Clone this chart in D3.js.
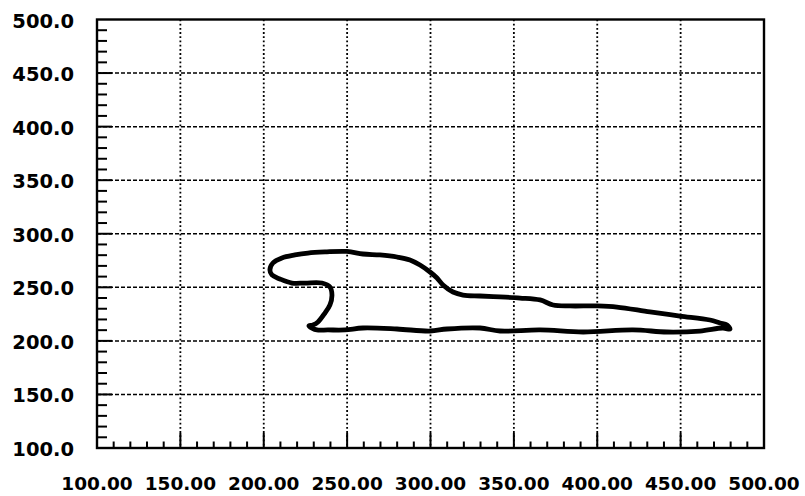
<!DOCTYPE html>
<html>
<head>
<meta charset="utf-8">
<script src="https://cdn.jsdelivr.net/npm/d3@7"></script>
<style>
  html, body { margin: 0; padding: 0; background: #fff; }
  svg { display: block; }
  .lbl { font-family: "DejaVu Sans", sans-serif; font-weight: bold; fill: #000; }
</style>
</head>
<body>
<svg id="chart" width="805" height="496"></svg>
<script>
// Axis tick labels
const xTickValues = [100, 150, 200, 250, 300, 350, 400, 450, 500];
const yTickValues = [100, 150, 200, 250, 300, 350, 400, 450, 500];

// Closed trajectory: bottom run out to the right-hand tip, back along the upper run, round the hook.
const trajX = [228.9, 231.9, 238.5, 248.7, 259.5, 279.9, 299.7, 309.9, 329.7, 341.7, 365.7, 391.5, 421.4, 441.8, 461.6, 475.4, 479.6, 477.8,
               473.6, 467.6, 449.6, 431.6, 411.8, 399.9, 383.7, 373.5, 365.7, 353.7, 341.7, 329.7, 319.5, 313.5, 307.5, 303.9, 299.7, 293.7,
               287.7, 279.9, 269.7, 259.5, 249.9, 236.7, 226.5, 218.7, 210.9, 205.5, 203.7, 204.9, 209.7, 216.9, 224.7, 234.9, 239.7,
               240.9, 239.7, 236.7, 232.5, 229.5, 227.1, 228.9];
const trajY = [212.0, 210.2, 210.2, 210.2, 212.0, 211.1, 209.2, 211.1, 212.0, 209.2, 210.2, 208.3, 210.2, 208.3, 209.2, 212.0, 211.0, 214.8,
               216.7, 219.5, 223.2, 227.0, 231.6, 232.6, 232.6, 233.5, 238.2, 240.0, 241.0, 241.9, 242.8, 245.6, 252.2, 258.7, 264.3, 270.8,
               275.5, 278.3, 280.2, 281.1, 283.5, 283.0, 282.0, 280.2, 277.4, 272.7, 266.2, 261.5, 257.8, 254.0, 254.0, 254.0, 250.3,
               242.8, 233.5, 226.0, 217.6, 214.8, 213.9, 212.0];

const svg = d3.select("#chart");
const plotLeft = 97, plotRight = 764, plotTop = 19.5, plotBottom = 448;

const x = d3.scaleLinear().domain([100, 500]).range([plotLeft, plotRight]);
const y = d3.scaleLinear().domain([100, 500]).range([plotBottom, plotTop]);

// Grid: dotted verticals, dashed horizontals at the inner major ticks
const inner = v => v > 100 && v < 500;
svg.append("g").selectAll("line").data(xTickValues.filter(inner)).join("line")
  .attr("x1", d => x(d)).attr("x2", d => x(d))
  .attr("y1", plotTop).attr("y2", plotBottom)
  .attr("stroke", "#000").attr("stroke-width", 1.8)
  .attr("stroke-dasharray", "1.8,2.4");
svg.append("g").selectAll("line").data(yTickValues.filter(inner)).join("line")
  .attr("x1", plotLeft).attr("x2", plotRight)
  .attr("y1", d => y(d)).attr("y2", d => y(d))
  .attr("stroke", "#000").attr("stroke-width", 1.5)
  .attr("stroke-dasharray", "4,2");

// Inward minor / major ticks on the left and bottom axes
const minor = d3.range(110, 500, 10);
const isMajor = v => v % 50 === 0;
svg.append("g").selectAll("line").data(minor).join("line")
  .attr("x1", d => x(d)).attr("x2", d => x(d))
  .attr("y1", plotBottom).attr("y2", d => plotBottom - (isMajor(d) ? 15 : 6.5))
  .attr("stroke", "#000").attr("stroke-width", 2);
svg.append("g").selectAll("line").data(minor).join("line")
  .attr("y1", d => y(d)).attr("y2", d => y(d))
  .attr("x1", plotLeft).attr("x2", d => plotLeft + (isMajor(d) ? 15 : 10))
  .attr("stroke", "#000").attr("stroke-width", 2);

// Frame
svg.append("rect")
  .attr("x", plotLeft).attr("y", plotTop)
  .attr("width", plotRight - plotLeft).attr("height", plotBottom - plotTop)
  .attr("fill", "none").attr("stroke", "#000").attr("stroke-width", 2.4);

// Tick labels
svg.append("g").selectAll("text").data(yTickValues).join("text")
  .attr("class", "lbl")
  .attr("x", 74).attr("y", d => y(d) + 8)
  .attr("text-anchor", "end")
  .attr("font-size", 19.5)
  .text(d => d3.format(".1f")(d));
svg.append("g").selectAll("text").data(xTickValues).join("text")
  .attr("class", "lbl")
  .attr("x", d => x(d)).attr("y", 490)
  .attr("text-anchor", "middle")
  .attr("font-size", 18.5)
  .text(d => d3.format(".2f")(d));

// Trajectory
const pts = trajX.map((v, i) => [v, trajY[i]]);
const line = d3.line().x(d => x(d[0])).y(d => y(d[1])).curve(d3.curveCatmullRom.alpha(0.5));
svg.append("path")
  .attr("d", line(pts))
  .attr("fill", "none")
  .attr("stroke", "#000")
  .attr("stroke-width", 4.8)
  .attr("stroke-linejoin", "round")
  .attr("stroke-linecap", "round");
</script>
</body>
</html>
